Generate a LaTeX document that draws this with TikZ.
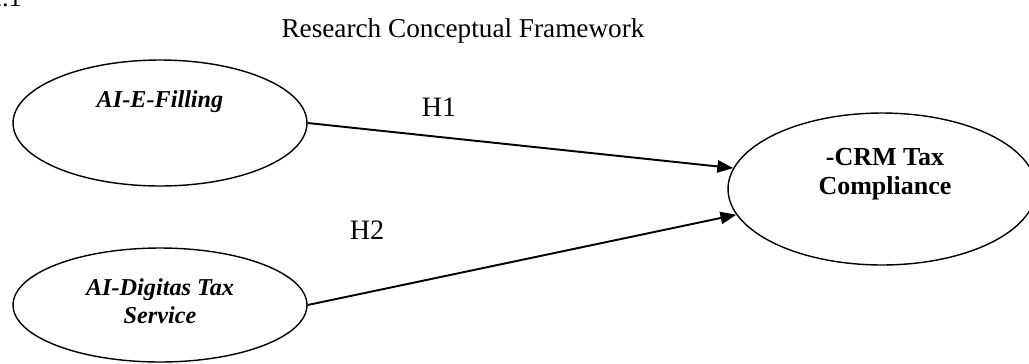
\documentclass[tikz,border=0pt]{standalone}
\usepackage{fontspec}
\setmainfont{Liberation Serif}
\usetikzlibrary{shapes.geometric, arrows.meta}

\begin{document}
\begin{tikzpicture}[x=0.02cm, y=-0.02cm,
    var/.style={ellipse, draw, line width=0.8pt, fill=white, inner sep=0pt},
    varname/.style={font=\fontsize{13.8}{15.9}\selectfont\bfseries\itshape, align=center},
    depname/.style={font=\fontsize{14.8}{16.4}\selectfont\bfseries, align=center},
    hyp/.style={font=\fontsize{16}{18}\selectfont, anchor=base},
    link/.style={-{Triangle[length=9pt, width=7pt]}, line width=1.1pt}]
    \useasboundingbox (0,0) rectangle (1029,363);

    % Caption
    \node[font=\fontsize{15}{18}\selectfont, anchor=base east] (fig) at (28,6) {2.1};
    \node[font=\fontsize{15.5}{18}\selectfont, anchor=base] (title) at (463,37) {Research Conceptual Framework};

    % Draw nodes
    \node[var, minimum width=5.88cm, minimum height=2.52cm] (efile) at (160,123) {};
    \node[var, minimum width=5.88cm, minimum height=2.28cm] (service) at (160,305) {};
    \node[var, minimum width=6.16cm, minimum height=3.04cm] (crm) at (882,189) {};

    \node[varname] (efileT) at (160,102) {AI-E-Filling};
    \node[varname] (serviceT) at (160,301) {AI-Digitas Tax\\Service};
    \node[depname] (crmT) at (885,174) {-CRM Tax\\Compliance};

    % Draw connections
    \draw[link] (efile.east) -- (crm.172);
    \draw[link] (service.east) -- (crm.190);

    % Labels
    \node[hyp] (h1) at (439,116) {H1};
    \node[hyp] (h2) at (367,239) {H2};
\end{tikzpicture}
\end{document}
